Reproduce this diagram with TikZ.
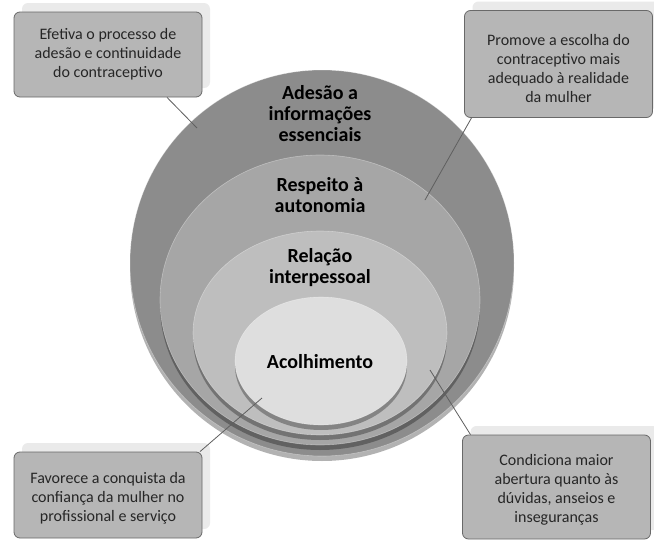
\documentclass[tikz,border=0pt]{standalone}
\usepackage{fontspec}
\setmainfont{Carlito}
\usetikzlibrary{shapes.geometric,shadows}
\definecolor{ringA}{RGB}{140,140,140}
\definecolor{ringB}{RGB}{166,166,166}
\definecolor{ringC}{RGB}{190,190,190}
\definecolor{ringD}{RGB}{222,222,222}
\definecolor{boxfill}{RGB}{182,182,182}
\definecolor{boxline}{RGB}{105,105,105}
\definecolor{boxshadow}{RGB}{234,234,234}
\definecolor{linkcol}{RGB}{95,95,95}
\tikzset{
  ring/.style={ellipse, inner sep=0pt, draw=white, draw opacity=0.35, line width=0.6pt,
    drop shadow={shadow xshift=0pt, shadow yshift=-5pt, opacity=0.3, fill=black}},
  lab/.style={align=center, font=\bfseries\fontsize{20}{21}\selectfont, text=black},
  note/.style={rectangle, rounded corners=6pt, fill=boxfill, draw=boxline, line width=0.8pt,
    inner sep=0pt, minimum width=188pt,
    drop shadow={shadow xshift=8pt, shadow yshift=9pt, opacity=1, fill=boxshadow, draw=none}},
  nt/.style={align=center, font=\fontsize{16}{19}\selectfont, text=black!85, inner sep=0pt},
  link/.style={draw=linkcol, line width=0.8pt}
}
\begin{document}
\begin{tikzpicture}[x=1pt,y=-1pt]
\useasboundingbox (0,0) rectangle (654,541);
\fill[white] (0,0) rectangle (654,541);
% rings
\node[ring, fill=ringA, minimum width=384pt, minimum height=386pt] (outer) at (322,263) {};
\node[ring, fill=ringB, minimum width=320pt, minimum height=290pt] (second) at (320,300) {};
\node[ring, fill=ringC, minimum width=254pt, minimum height=204pt] (third) at (320,333) {};
\node[ring, fill=ringD, minimum width=172pt, minimum height=128pt] (inner) at (321,361) {};
% labels
\node[lab] (l1) at (320,114) {Adesão a\\informações\\essenciais};
\node[lab] (l2) at (320,195) {Respeito à\\autonomia};
\node[lab] (l3) at (320,268) {Relação\\interpessoal};
\node[lab] (l4) at (320,362) {Acolhimento};
% connector ends
\coordinate (p1) at (197,128);
\coordinate (p2) at (425,200);
\coordinate (p3) at (262,398);
\coordinate (p4) at (430,370);
% boxes
\node[note, minimum height=85pt,
  label={[nt]center:Efetiva o processo de\\adesão e continuidade\\do contraceptivo}] (b1) at (108,54.5) {};
\node[note, minimum height=107pt,
  label={[nt, yshift=-5pt]center:Promove a escolha do\\contraceptivo mais\\adequado à realidade\\da mulher}] (b2) at (558.5,64) {};
\node[note, minimum height=86pt,
  label={[nt, yshift=-3pt]center:Favorece a conquista da\\confiança da mulher no\\profissional e serviço}] (b3) at (108,495) {};
\node[note, minimum height=104pt,
  label={[nt, yshift=-3pt]center:Condiciona maior\\abertura quanto às\\dúvidas, anseios e\\inseguranças}] (b4) at (556.5,487) {};
% connectors
\draw[link] ([xshift=-87pt]b2.south) -- (p2);
\draw[link] ([xshift=59pt]b1.south) -- (p1);
\draw[link] ([xshift=92pt]b3.north) -- (p3);
\draw[link] ([xshift=-86pt]b4.north) -- (p4);
\end{tikzpicture}
\end{document}
